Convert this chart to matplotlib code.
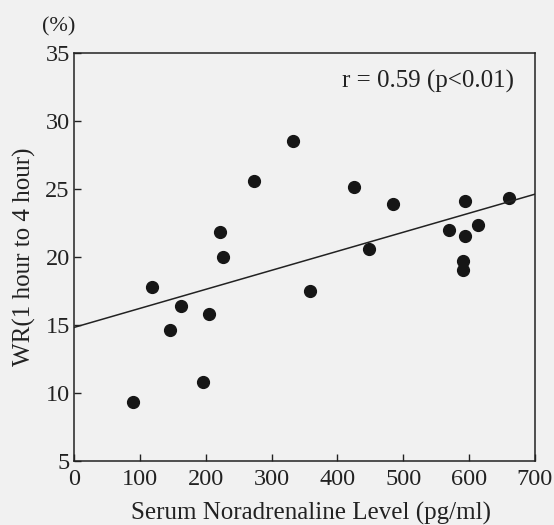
import matplotlib
matplotlib.use("Agg")
import matplotlib.pyplot as plt
import numpy as np

plt.rcParams['font.family'] = ['Liberation Serif', 'DejaVu Serif']

noradrenalina = [89, 119, 146, 163, 196, 205, 222, 226, 274, 333, 358, 425,
                 448, 485, 570, 594, 594, 591, 591, 613, 660]
wr = [9.3, 17.8, 14.6, 16.4, 10.8, 15.8, 21.8, 20.0, 25.6, 28.5, 17.5, 25.1,
      20.6, 23.9, 22.0, 24.1, 21.5, 19.7, 19.0, 22.3, 24.3]

# prosta regresji (odczytana)
wyraz_wolny = 14.8
nachylenie = 0.0140

kolor_tla = '#f1f1f1'

fig = plt.figure(figsize=(5.54, 5.25), dpi=100, facecolor=kolor_tla)
ax = fig.add_axes([0.1336, 0.1225, 0.832, 0.777])
ax.set_facecolor(kolor_tla)

ax.plot(noradrenalina, wr, 'o', color='#161616', markersize=8.5)

help_x = np.array([0, 700])
ax.plot(help_x, wyraz_wolny + nachylenie * help_x, color='#222222', linewidth=1.1)

ax.set_xlim(0, 700)
ax.set_ylim(5, 35)
ax.set_xticks(range(0, 701, 100))
ax.set_yticks(range(5, 36, 5))
ax.tick_params(direction='in', length=5, width=1, labelsize=17.5, colors='#222222', pad=3)
ax.tick_params(axis='x', pad=6)
for s in ax.spines.values():
    s.set_linewidth(1.1)
    s.set_color('#222222')

ax.set_xlabel("Serum Noradrenaline Level (pg/ml)", fontsize=18, color='#222222')
ax.xaxis.set_label_coords(0.515, -0.1)
ax.xaxis.label.set_va('top')
ax.set_ylabel("WR(1 hour to 4 hour)", fontsize=18, color='#222222', labelpad=7)
ax.text(-0.033, 1.04, "(%)", transform=ax.transAxes, fontsize=16, color='#222222',
        ha='center', va='bottom')
ax.text(0.955, 0.93, "r = 0.59 (p<0.01)", transform=ax.transAxes, fontsize=18,
        color='#222222', ha='right', va='center')

fig.savefig("out.png", dpi=100, facecolor=kolor_tla)
